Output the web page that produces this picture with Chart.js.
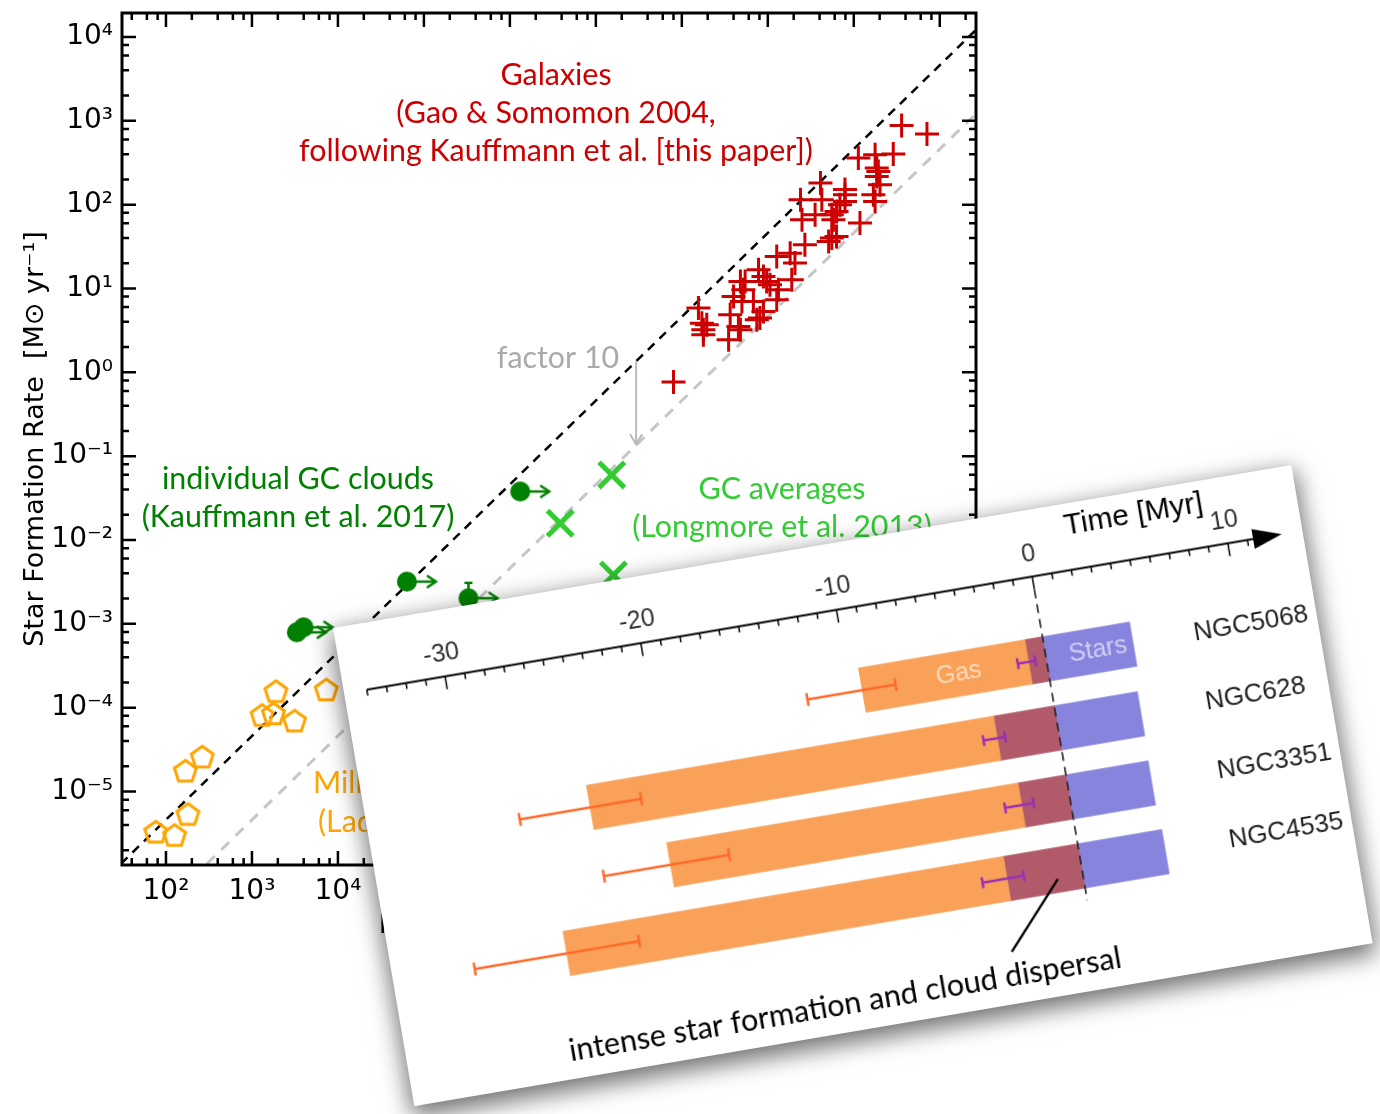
<!DOCTYPE html>
<html><head><meta charset="utf-8">
<script src="https://cdn.jsdelivr.net/npm/chart.js@4.4.1/dist/chart.umd.min.js"></script>
<style>
html,body{margin:0;padding:0;background:#fff;width:1380px;height:1114px;overflow:hidden;}
#main{position:absolute;left:0;top:0;}
#panel{position:absolute;left:333px;top:628px;width:972px;height:485px;background:#fff;transform:rotate(-9.65deg);transform-origin:0 0;box-shadow:0 8px 22px 3px rgba(0,0,0,0.55);}
#panel canvas{position:absolute;left:0;top:0;}
</style></head>
<body>
<canvas id="main" width="1380" height="1114"></canvas>
<div id="panel"><canvas id="tl" width="972" height="485"></canvas></div>
<script>
// ---------- main chart data ----------
const galaxyMass = [3.6e10, 7.1e10, 1.13e10, 1.77e10, 2.88e10, 1.85e10, 1.93e10, 1.85e10, 2.02e10, 1.69e10, 1.77e10,
  4.1e9, 7.9e9, 7.9e9, 7.9e9, 2.4e9, 4.25e9, 6.9e9, 3.55e9, 2.5e9, 5.55e9, 6.3e9, 1.18e10, 5.8e9,
  5.55e9, 5.1e9, 6.3e9, 2.7e9, 1.82e9, 1.27e9, 2.07e9, 7.8e8, 1.9e9, 4.8e8, 5.45e8, 9.7e8, 1.06e9, 8.9e8, 1.33e9,
  4.0e8, 5.2e8, 5.0e8, 6.8e8, 1.27e9, 8.9e8, 8.1e8, 7.45e8, 3.65e8, 4.55e8,
  1.56e8, 1.71e8, 1.95e8, 1.78e8, 1.78e8, 3.5e8, 4.8e8, 8.0e7];
const galaxySFR = [880, 695, 360, 394, 402, 274, 249, 217, 173, 131, 109,
  181, 151, 131, 109, 114, 114, 100, 75.7, 66, 75.7, 83, 60.3, 66,
  39.9, 36.4, 41.8, 33.2, 26.4, 24.1, 20.1, 16.7, 12.7, 12.1, 12.1, 12.1, 11.1, 13.9, 9.64,
  8.04, 9.64, 7.0, 7.0, 7.33, 5.32, 4.44, 4.23, 4.85, 3.52,
  5.83, 3.86, 3.69, 3.21, 2.8, 2.44, 3.21, 0.764];
const mwMass = [1900, 1310, 1780, 3130, 7310, 264, 168, 180, 76, 126];
const mwSFR = [1.53e-4, 7.96e-5, 8.3e-5, 6.8e-5, 1.6e-4, 2.53e-5, 1.72e-5, 5.25e-6, 3.22e-6, 2.94e-6];
const gcCloudMass = [1.32e6, 6.34e4, 3.3e5, 3.33e3, 3.98e3];
const gcCloudSFR = [3.79e-2, 3.19e-3, 2.02e-3, 7.94e-4, 9.1e-4];
const gcErrMass = [3.3e5, 3.3e5];
const gcErrSFR = [2.02e-3, 3.08e-3];
const gcAvgMass = [1.53e7, 3.85e6, 1.6e7];
const gcAvgSFR = [5.98e-2, 1.58e-2, 3.83e-3];
const relationMass = [30, 3e11];
const kauffmannSFR = [1.38e-6, 1.38e4];
const factor10SFR = [1.38e-7, 1.38e3];
const arrowMass = 2.94e7;
const arrowSFR = [1.35, 0.135];

const xTickValues = [1e2, 1e3, 1e4, 1e5, 1e6, 1e7, 1e8, 1e9, 1e10, 1e11];
const xTickLabels = ['10²', '10³', '10⁴', '10⁵', '10⁶', '10⁷', '10⁸', '10⁹', '10¹⁰', '10¹¹'];
const yTickValues = [1e4, 1e3, 1e2, 1e1, 1e0, 1e-1, 1e-2, 1e-3, 1e-4, 1e-5];
const yTickLabels = ['10⁴', '10³', '10²', '10¹', '10⁰', '10⁻¹', '10⁻²', '10⁻³', '10⁻⁴', '10⁻⁵'];
const minorMultipliers = [2, 4, 6, 8];

// ---------- timeline (inset) data ----------
const rowNames = ['NGC5068', 'NGC628', 'NGC3351', 'NGC4535'];
const gasStart = [-9.4, -23.9, -20.4, -26.3];
const sfStart = [-0.9, -3.1, -2.45, -3.8];
const starsEnd = [4.45, 4.25, 4.2, 4.3];
const gasErrLow = [-12.2, -27.5, -23.8, -31.0];
const gasErrHigh = [-7.7, -21.3, -17.4, -22.6];
const sfErrLow = [-1.45, -3.8, -3.3, -5.05];
const sfErrHigh = [-0.55, -2.7, -1.85, -2.95];
const timeTicks = [-30, -20, -10, 0, 10];
const timeTickLabels = ['-30', '-20', '-10', '0', '10'];

// ---------- helpers ----------
function labelFor(v, vals, labels) {
  const i = vals.findIndex(t => Math.abs(Math.log10(t) - Math.log10(v)) < 1e-6);
  return i >= 0 ? labels[i] : '';
}
function makePentagon(r, lw, color) {
  const s = Math.ceil(2 * r + 2 * lw + 2);
  const c = document.createElement('canvas'); c.width = c.height = s;
  const g = c.getContext('2d'); g.strokeStyle = color; g.lineWidth = lw; g.lineJoin = 'miter';
  g.beginPath();
  for (let k = 0; k < 5; k++) {
    const a = -Math.PI / 2 + k * 2 * Math.PI / 5;
    const px = s / 2 + r * Math.cos(a), py = s / 2 + r * Math.sin(a);
    if (k) g.lineTo(px, py); else g.moveTo(px, py);
  }
  g.closePath(); g.stroke();
  return c;
}
function makeDotArrow(color) {
  const w = 76, h = 26, cx = 38, cy = 13;
  const c = document.createElement('canvas'); c.width = w; c.height = h;
  const g = c.getContext('2d');
  g.fillStyle = color; g.strokeStyle = color; g.lineWidth = 2.5;
  g.beginPath(); g.moveTo(cx, cy); g.lineTo(cx + 29, cy); g.stroke();
  g.beginPath(); g.moveTo(cx + 20, cy - 6); g.lineTo(cx + 29, cy); g.lineTo(cx + 20, cy + 6); g.stroke();
  g.beginPath(); g.arc(cx, cy, 10, 0, 2 * Math.PI); g.fill();
  return c;
}

const frameTicks = {
  id: 'frameTicks',
  afterDatasetsDraw(chart) {
    const {ctx, chartArea: a, scales: {x, y}} = chart;
    ctx.save();
    ctx.strokeStyle = '#000';
    ctx.lineWidth = 2.5;
    const xt = [], yt = [];
    for (let d = -7; d <= 12; d++) {
      const base = Math.pow(10, d);
      xt.push([base, 14]); yt.push([base, 14]);
      minorMultipliers.forEach(m => { xt.push([m * base, 7]); yt.push([m * base, 7]); });
    }
    xt.forEach(([v, len]) => {
      const p = x.getPixelForValue(v);
      if (p < a.left + 2 || p > a.right - 2) return;
      ctx.beginPath();
      ctx.moveTo(p, a.bottom); ctx.lineTo(p, a.bottom - len);
      ctx.moveTo(p, a.top); ctx.lineTo(p, a.top + len);
      ctx.stroke();
    });
    yt.forEach(([v, len]) => {
      const p = y.getPixelForValue(v);
      if (p < a.top + 2 || p > a.bottom - 2) return;
      ctx.beginPath();
      ctx.moveTo(a.left, p); ctx.lineTo(a.left + len, p);
      ctx.moveTo(a.right, p); ctx.lineTo(a.right - len, p);
      ctx.stroke();
    });
    ctx.lineWidth = 3;
    ctx.strokeRect(a.left, a.top, a.right - a.left, a.bottom - a.top);
    ctx.restore();
  }
};

const mainNotes = [
  {text: 'Galaxies', x: 556, y: 75, color: '#CC0000'},
  {text: '(Gao & Somomon 2004,', x: 556, y: 113, color: '#CC0000'},
  {text: 'following Kauffmann et al. [this paper])', x: 556, y: 151, color: '#CC0000'},
  {text: 'factor 10', x: 558, y: 358, color: '#AAAAAA'},
  {text: 'individual GC clouds', x: 298, y: 479, color: '#008000'},
  {text: '(Kauffmann et al. 2017)', x: 298, y: 517, color: '#008000'},
  {text: 'GC averages', x: 782, y: 489, color: '#33CC33'},
  {text: '(Longmore et al. 2013)', x: 782, y: 527, color: '#33CC33'},
  {text: 'Milky Way clouds', x: 313, y: 783, color: '#FFA500', align: 'left'},
  {text: '(Lada et al. 2010)', x: 318, y: 822, color: '#FFA500', align: 'left'}
];
const notesPlugin = {
  id: 'notes',
  afterDraw(chart) {
    const {ctx, scales: {x, y}} = chart;
    ctx.save();
    ctx.font = '100px Lato';
    const size = 100 * 514 / ctx.measureText(mainNotes[2].text).width;
    ctx.font = size.toFixed(2) + 'px Lato';
    ctx.textBaseline = 'middle';
    mainNotes.forEach(n => {
      ctx.fillStyle = n.color; ctx.textAlign = n.align || 'center';
      ctx.fillText(n.text, n.x, n.y);
    });
    // factor-10 arrow
    const ax = x.getPixelForValue(arrowMass);
    const y1 = y.getPixelForValue(arrowSFR[0]), y2 = y.getPixelForValue(arrowSFR[1]);
    ctx.strokeStyle = '#BBBBBB'; ctx.lineWidth = 2;
    ctx.beginPath(); ctx.moveTo(ax, y1); ctx.lineTo(ax, y2 - 1); ctx.stroke();
    ctx.beginPath(); ctx.moveTo(ax - 6, y2 - 11); ctx.lineTo(ax, y2 - 1); ctx.lineTo(ax + 6, y2 - 11); ctx.stroke();
    ctx.restore();
  }
};

Chart.defaults.font.family = '"DejaVu Sans", sans-serif';
Chart.defaults.color = '#000';

const pentagon = makePentagon(11.5, 3, '#FFA500');
const dotArrow = makeDotArrow('#008000');

new Chart(document.getElementById('main'), {
  type: 'scatter',
  data: {
    datasets: [
      {label: 'Galaxies', data: galaxyMass.map((m, i) => ({x: m, y: galaxySFR[i]})),
       pointStyle: 'cross', pointRadius: 12, pointBorderWidth: 3, pointBorderColor: '#CC0000', borderColor: '#CC0000'},
      {label: 'GC averages', data: gcAvgMass.map((m, i) => ({x: m, y: gcAvgSFR[i]})),
       pointStyle: 'crossRot', pointRadius: 18, pointBorderWidth: 5, pointBorderColor: '#33CC33', borderColor: '#33CC33'},
      {label: 'individual GC clouds', data: gcCloudMass.map((m, i) => ({x: m, y: gcCloudSFR[i]})),
       pointStyle: dotArrow, pointRadius: 10},
      {label: 'GC error', data: gcErrMass.map((m, i) => ({x: m, y: gcErrSFR[i]})), showLine: true,
       borderColor: '#008000', borderWidth: 2.5, pointStyle: 'line', pointRadius: [0, 4], pointBorderWidth: 2.5, pointBorderColor: '#008000'},
      {label: 'Milky Way clouds', data: mwMass.map((m, i) => ({x: m, y: mwSFR[i]})),
       pointStyle: pentagon, pointRadius: 11},
      {label: 'Kauffmann relation', data: relationMass.map((m, i) => ({x: m, y: kauffmannSFR[i]})), showLine: true,
       borderColor: '#000', borderWidth: 2.5, borderDash: [9, 7], pointRadius: 0},
      {label: 'factor 10 below', data: relationMass.map((m, i) => ({x: m, y: factor10SFR[i]})), showLine: true,
       borderColor: '#C6C6C6', borderWidth: 3, borderDash: [11, 9], pointRadius: 0}
    ]
  },
  options: {
    responsive: false, animation: false, events: [], devicePixelRatio: 1,
    layout: {autoPadding: false, padding: {top: 13, right: 404, bottom: 0, left: 0}},
    plugins: {legend: {display: false}, tooltip: {enabled: false}},
    scales: {
      x: {type: 'logarithmic', position: 'bottom', min: 30.8, max: 2.64e11,
        afterFit(s) { s.height = 249; s.paddingLeft = 0; s.paddingRight = 0; },
        afterBuildTicks(s) { s.ticks = xTickValues.map(v => ({value: v})); },
        ticks: {callback: v => labelFor(v, xTickValues, xTickLabels), font: {size: 28}, color: '#000', padding: 2, autoSkip: false, maxRotation: 0, minRotation: 0},
        grid: {display: false}, border: {display: false},
        title: {display: true, text: 'Mass of Dense Gas  [M⊙]', font: {size: 27}, color: '#000', padding: {top: 0, bottom: 172}}
      },
      y: {type: 'logarithmic', position: 'left', min: 1.33e-6, max: 1.93e4,
        afterFit(s) { s.width = 122; s.paddingTop = 0; s.paddingBottom = 0; },
        afterBuildTicks(s) { s.ticks = yTickValues.map(v => ({value: v})); },
        ticks: {callback: v => labelFor(v, yTickValues, yTickLabels), font: {size: 28}, color: '#000', padding: 1, autoSkip: false},
        grid: {display: false}, border: {display: false},
        title: {display: true, text: 'Star Formation Rate  [M⊙ yr⁻¹]', font: {size: 27}, color: '#000', padding: {top: 20, bottom: 0}}
      }
    }
  },
  plugins: [frameTicks, notesPlugin]
});

// ---------- timeline inset ----------
const timelinePlugin = {
  id: 'timeline',
  afterDatasetsDraw(chart) {
    const {ctx, chartArea: a, scales: {x, y}} = chart;
    const axisY = a.top - 48.5;
    ctx.save();
    // axis line + arrow
    ctx.strokeStyle = '#000'; ctx.fillStyle = '#000'; ctx.lineWidth = 2;
    ctx.beginPath(); ctx.moveTo(a.left, axisY); ctx.lineTo(a.right - 20, axisY); ctx.stroke();
    ctx.beginPath(); ctx.moveTo(a.right, axisY); ctx.lineTo(a.right - 29, axisY - 10); ctx.lineTo(a.right - 29, axisY + 10); ctx.closePath(); ctx.fill();
    ctx.lineWidth = 1.5;
    for (let t = Math.ceil(x.min); t <= 11; t++) {
      const p = x.getPixelForValue(t);
      const len = t % 10 === 0 ? 13 : 6;
      ctx.beginPath(); ctx.moveTo(p, axisY); ctx.lineTo(p, axisY + len); ctx.stroke();
    }
    ctx.font = '25px "Liberation Sans", Arial, sans-serif';
    ctx.fillStyle = '#333'; ctx.textAlign = 'center'; ctx.textBaseline = 'middle';
    timeTicks.forEach((t, i) => ctx.fillText(timeTickLabels[i], x.getPixelForValue(t), axisY - 22));
    ctx.font = '30px "Liberation Sans", Arial, sans-serif'; ctx.fillStyle = '#000';
    ctx.fillText('Time [Myr]', x.getPixelForValue(5.55), axisY - 44);

    // dashed t=0 line
    ctx.strokeStyle = '#222'; ctx.lineWidth = 1.6; ctx.setLineDash([9, 6]);
    const x0 = x.getPixelForValue(0);
    ctx.beginPath(); ctx.moveTo(x0, axisY + 13); ctx.lineTo(x0, a.bottom); ctx.stroke();
    ctx.setLineDash([]);

    // error bars
    rowNames.forEach((name, i) => {
      const yc = y.getPixelForValue(i);
      const drawErr = (lo, hi, color, cap) => {
        const p1 = x.getPixelForValue(lo), p2 = x.getPixelForValue(hi);
        ctx.strokeStyle = color; ctx.lineWidth = 2.5;
        ctx.beginPath();
        ctx.moveTo(p1, yc); ctx.lineTo(p2, yc);
        ctx.moveTo(p1, yc - cap); ctx.lineTo(p1, yc + cap);
        ctx.moveTo(p2, yc - cap); ctx.lineTo(p2, yc + cap);
        ctx.stroke();
      };
      drawErr(gasErrLow[i], gasErrHigh[i], '#FF6A2B', 6.5);
      drawErr(sfErrLow[i], sfErrHigh[i], '#9A2FB5', 5.5);
      ctx.font = '26px "Liberation Sans", Arial, sans-serif';
      ctx.fillStyle = '#222'; ctx.textAlign = 'left'; ctx.textBaseline = 'middle';
      ctx.fillText(name, x.getPixelForValue(7.55), yc);
    });

    // in-bar labels
    const y0 = y.getPixelForValue(0);
    ctx.font = '25px "Liberation Sans", Arial, sans-serif';
    ctx.fillStyle = 'rgba(255,255,255,0.6)'; ctx.textAlign = 'center';
    ctx.fillText('Gas', x.getPixelForValue(-4.47), y0);
    ctx.fillText('Stars', x.getPixelForValue(2.65), y0);

    // annotation
    const note = 'intense star formation and cloud dispersal';
    ctx.font = '100px Lato';
    const fs = 100 * 560 / ctx.measureText(note).width;
    ctx.font = fs.toFixed(2) + 'px Lato';
    ctx.fillStyle = '#000';
    ctx.fillText(note, x.getPixelForValue(-12.9), a.bottom + 62);
    ctx.strokeStyle = '#000'; ctx.lineWidth = 2.5;
    ctx.beginPath();
    ctx.moveTo(x.getPixelForValue(-4.18), a.bottom + 38);
    ctx.lineTo(x.getPixelForValue(-1.28), y.getPixelForValue(3) + 9);
    ctx.stroke();
    ctx.restore();
  }
};

new Chart(document.getElementById('tl'), {
  type: 'bar',
  data: {
    labels: rowNames,
    datasets: [
      {label: 'Gas', data: rowNames.map((_, i) => [gasStart[i], sfStart[i]]), backgroundColor: '#F9A158'},
      {label: 'Star formation', data: rowNames.map((_, i) => [sfStart[i], 0]), backgroundColor: '#B05A6A'},
      {label: 'Stars', data: rowNames.map((_, i) => [0, starsEnd[i]]), backgroundColor: '#8684DD'}
    ]
  },
  options: {
    indexAxis: 'y', responsive: false, animation: false, events: [], devicePixelRatio: 1,
    layout: {autoPadding: false, padding: {left: 23, right: 21, top: 115, bottom: 90}},
    datasets: {bar: {barThickness: 45, grouped: false, borderWidth: 0}},
    plugins: {legend: {display: false}, tooltip: {enabled: false}},
    scales: {
      x: {type: 'linear', min: -34, max: 12.75, display: false},
      y: {display: false}
    }
  },
  plugins: [timelinePlugin]
});
</script>
</body></html>
